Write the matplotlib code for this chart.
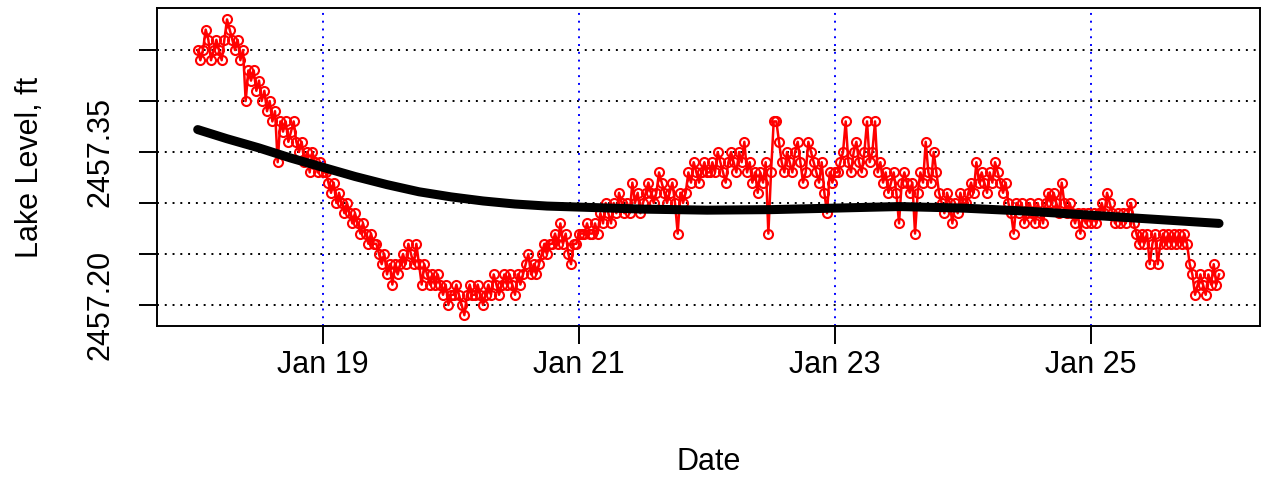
import numpy as np
import pandas as pd
import matplotlib
matplotlib.use("Agg")
import matplotlib.pyplot as plt
import matplotlib.dates as mdates

# lake level readings, hundredths of a foot above 2457.00, every 30 min
# each day list runs 00:30 .. 24:00
jan18 = [45, 44, 45, 47, 46, 44, 45, 46, 45, 44,
         46, 48, 47, 46, 45, 46, 44, 45, 40, 43,
         42, 43, 41, 42, 40, 41, 39, 40, 38, 39,
         34, 38, 37, 38, 36, 37, 38, 36, 35, 36,
         34, 35, 33, 35, 34, 33, 34, 33]
jan19 = [33, 32, 31, 32, 30, 31, 30, 29, 30, 29,
         28, 29, 28, 27, 28, 27, 26, 27, 26, 26,
         25, 24, 25, 23, 24, 22, 24, 23, 24, 25,
         24, 26, 25, 24, 26, 24, 22, 24, 23, 22,
         23, 22, 23, 22, 21, 22, 20, 21]
jan20 = [21, 22, 21, 20, 19, 21, 22, 21, 21, 22,
         21, 20, 21, 22, 21, 23, 22, 21, 22, 23,
         22, 23, 22, 21, 23, 22, 23, 24, 25, 23,
         24, 23, 24, 25, 26, 25, 26, 26, 27, 26,
         28, 26, 27, 25, 24, 26, 26, 27]
jan21 = [27, 27, 28, 27, 27, 28, 27, 29, 28, 30,
         29, 28, 30, 29, 31, 30, 29, 30, 29, 32,
         30, 31, 29, 30, 31, 32, 31, 30, 31, 33,
         32, 31, 30, 31, 32, 30, 27, 31, 30, 31,
         33, 32, 34, 33, 32, 33, 34, 33]
jan22 = [33, 34, 33, 35, 34, 33, 32, 34, 35, 34,
         33, 35, 34, 36, 33, 34, 32, 33, 31, 33,
         32, 34, 27, 33, 38, 38, 36, 34, 33, 35,
         34, 33, 35, 36, 34, 32, 33, 36, 35, 34,
         33, 32, 34, 31, 29, 33, 32, 33]
jan23 = [33, 34, 35, 38, 34, 33, 35, 36, 34, 33,
         35, 38, 34, 35, 38, 33, 34, 32, 33, 31,
         32, 33, 31, 28, 32, 33, 32, 31, 32, 27,
         31, 33, 32, 36, 33, 32, 35, 33, 31, 30,
         29, 31, 30, 28, 30, 29, 31, 30]
jan24 = [30, 31, 32, 31, 34, 32, 33, 32, 31, 33,
         32, 34, 33, 32, 31, 32, 30, 29, 27, 30,
         29, 30, 28, 29, 30, 29, 28, 30, 29, 28,
         30, 31, 30, 31, 30, 29, 32, 30, 29, 30,
         29, 28, 29, 27, 29, 28, 29, 28]
jan25 = [29, 28, 29, 30, 29, 31, 30, 29, 28, 29,
         28, 29, 28, 29, 30, 28, 27, 26, 27, 26,
         27, 24, 26, 27, 24, 26, 27, 26, 27, 26,
         27, 26, 27, 26, 27, 26, 24, 23, 21, 22,
         23, 22, 21, 23, 22, 24, 22, 23]

# smoothed trend
trend_times = ["2015-01-18 00:30", "2015-01-18 06:00", "2015-01-18 12:00",
               "2015-01-18 18:00", "2015-01-19 00:00", "2015-01-19 06:00",
               "2015-01-19 12:00", "2015-01-19 18:00", "2015-01-20 00:00",
               "2015-01-20 06:00", "2015-01-20 12:00", "2015-01-20 18:00",
               "2015-01-21 00:00", "2015-01-21 12:00", "2015-01-22 00:00",
               "2015-01-22 12:00", "2015-01-23 00:00", "2015-01-23 12:00",
               "2015-01-24 00:00", "2015-01-24 12:00", "2015-01-25 00:00",
               "2015-01-25 12:00", "2015-01-26 00:00"]
trend_level = [2457.372, 2457.363, 2457.354, 2457.344, 2457.335, 2457.326,
               2457.318, 2457.311, 2457.306, 2457.302, 2457.299, 2457.297,
               2457.296, 2457.294, 2457.293, 2457.2935, 2457.295, 2457.2965,
               2457.295, 2457.292, 2457.288, 2457.284, 2457.280]

ytick_vals = [2457.20, 2457.25, 2457.30, 2457.35, 2457.40, 2457.45]
ytick_labels = ["2457.20", "", "", "2457.35", "", ""]
xtick_dates = ["2015-01-19", "2015-01-21", "2015-01-23", "2015-01-25"]

cents = jan18 + jan19 + jan20 + jan21 + jan22 + jan23 + jan24 + jan25
times = pd.date_range("2015-01-18 00:30", periods=len(cents), freq="30min")
level = 2457 + np.array(cents) / 100.0

plt.rcParams['font.family'] = ['Liberation Sans', 'DejaVu Sans']

fig = plt.figure(figsize=(12.71, 4.78), dpi=100)
ax = fig.add_axes([157 / 1271, 1 - 326 / 478, 1103 / 1271, 318 / 478])

xt = pd.to_datetime(xtick_dates)
# grid: black dotted horizontals, blue dotted verticals
for y in ytick_vals:
    ax.axhline(y, color='black', lw=1.4, ls=(0, (1, 3)), zorder=1)
for d in xt:
    ax.axvline(d, color='#0000FF', lw=1.4, ls=(0, (1, 3)), zorder=1)

ax.plot(times, level, color='#FF0000', lw=1.8, marker='o', ms=6.5,
        mfc='none', mec='#FF0000', mew=1.5, zorder=2)
ax.plot(pd.to_datetime(trend_times), trend_level, color='black', lw=6.5,
        solid_capstyle='round', solid_joinstyle='round', zorder=3)

x0 = mdates.date2num(pd.Timestamp("2015-01-19"))
ax.set_xlim(x0 - 1.297, x0 + 7.32)
ax.set_ylim(2457.1794, 2457.4912)

ax.set_xticks(xt)
ax.xaxis.set_major_formatter(mdates.DateFormatter('%b %d'))
ax.set_yticks(ytick_vals)
ax.set_yticklabels(ytick_labels)
ax.tick_params(axis='both', length=13, width=1.4, labelsize=22, direction='out')
ax.tick_params(axis='x', pad=4)
ax.tick_params(axis='y', pad=28)
for lab in ax.get_yticklabels():
    lab.set_rotation(90)
    lab.set_ha('center')
    lab.set_va('center')

for s in ax.spines.values():
    s.set_linewidth(1.4)

ax.set_xlabel('Date', fontsize=22, va='center')
ax.xaxis.set_label_coords(0.5, -0.428)
ax.set_ylabel('Lake Level, ft', fontsize=22, va='center')
ax.yaxis.set_label_coords(-0.115, 0.5)

fig.savefig('out.png', dpi=100)
